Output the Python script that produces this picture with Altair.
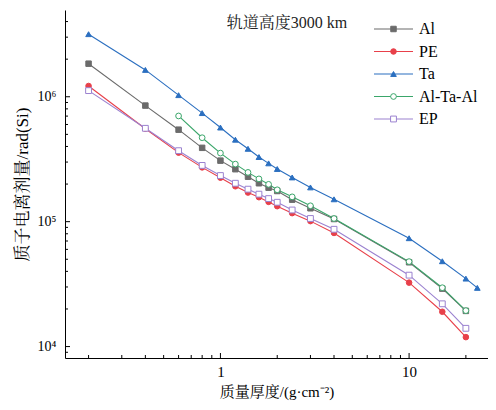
import altair as alt
import pandas as pd

series = ["Al", "PE", "Ta", "Al-Ta-Al", "EP"]
colors = ["#6b6b6b", "#e8404a", "#2b6fc0", "#3aa66a", "#9b82d0"]
shapes = ["square", "circle", "triangle-up", "circle", "square"]
fills = ["#6b6b6b", "#e8404a", "#2b6fc0", "white", "white"]
sizes = [30, 34, 60, 34, 30]

x_common = [0.2, 0.4, 0.6, 0.8, 1.0, 1.2, 1.4, 1.6, 1.8, 2.0, 2.4, 3, 4, 10, 15, 20]
x_ta = x_common + [23]
x_alta = x_common[2:]

al = [1.84e6, 8.5e5, 5.45e5, 3.9e5, 3.08e5, 2.63e5, 2.29e5, 2.03e5, 1.87e5, 1.76e5,
      1.5e5, 1.28e5, 1.05e5, 4.73e4, 2.91e4, 1.93e4]
pe = [1.22e6, 5.55e5, 3.57e5, 2.72e5, 2.25e5, 1.92e5, 1.71e5, 1.57e5, 1.44e5, 1.33e5,
      1.17e5, 1.01e5, 8.12e4, 3.25e4, 1.9e4, 1.19e4]
ta = [3.17e6, 1.64e6, 1.03e6, 7.4e5, 5.67e5, 4.53e5, 3.83e5, 3.29e5, 2.93e5, 2.64e5,
      2.26e5, 1.88e5, 1.51e5, 7.37e4, 4.82e4, 3.5e4, 2.95e4]
altaal = [7.02e5, 4.7e5, 3.54e5, 2.89e5, 2.48e5, 2.2e5, 1.99e5, 1.8e5, 1.58e5, 1.34e5,
          1.06e5, 4.79e4, 2.96e4, 1.94e4]
ep = [1.12e6, 5.59e5, 3.7e5, 2.82e5, 2.34e5, 2.03e5, 1.82e5, 1.66e5, 1.53e5, 1.43e5,
      1.24e5, 1.06e5, 8.69e4, 3.73e4, 2.2e4, 1.4e4]

x_major = [1, 10]
x_minor = [0.2, 0.3, 0.4, 0.5, 0.6, 0.7, 0.8, 0.9, 2, 3, 4, 5, 6, 7, 8, 9, 20]
y_major = [1e4, 1e5, 1e6]
y_minor = [9e3, 2e4, 3e4, 4e4, 5e4, 6e4, 7e4, 8e4, 9e4,
           2e5, 3e5, 4e5, 5e5, 6e5, 7e5, 8e5, 9e5, 2e6, 3e6, 4e6]

chart_title = "轨道高度3000 km"
x_title = "质量厚度/(g·cm⁻²)"
y_title = "质子电离剂量/rad(Si)"

rows = []
for name, xs_, ys_ in [("Al", x_common, al), ("PE", x_common, pe), ("Ta", x_ta, ta),
                       ("Al-Ta-Al", x_alta, altaal), ("EP", x_common, ep)]:
    for a, b in zip(xs_, ys_):
        rows.append({"series": name, "x": a, "y": b})
df = pd.DataFrame(rows)
leg = pd.DataFrame({"series": series})

SERIF = "Liberation Serif, Noto Serif CJK SC, Noto Sans CJK SC"
W, H = 423, 348

xs = alt.Scale(type="log", domain=[0.15, 26.2], nice=False)
ys = alt.Scale(type="log", domain=[8100, 4.95e6], nice=False)
cs = alt.Scale(domain=series, range=colors)
ss = alt.Scale(domain=series, range=shapes)
fs = alt.Scale(domain=series, range=fills)
zs = alt.Scale(domain=series, range=sizes)

x_axis = alt.Axis(values=x_major, format="~g", ticks=False, tickSize=0, grid=False,
                  domainColor="black", domainWidth=1, labelFont=SERIF, labelFontSize=15,
                  labelColor="black", labelPadding=6, title=x_title, titleFont=SERIF,
                  titleFontSize=15, titleFontWeight="normal", titleColor="black",
                  titlePadding=5)
y_axis = alt.Axis(values=y_major, ticks=False, tickSize=0, grid=False,
                  domainColor="black", domainWidth=1,
                  labelExpr="datum.value == 10000 ? '10⁴' : datum.value == 100000 ? '10⁵' : '10⁶'",
                  labelFont=SERIF, labelFontSize=14, labelColor="black", labelPadding=9,
                  title=y_title, titleFont=SERIF, titleFontSize=17,
                  titleFontWeight="normal", titleColor="black", titlePadding=6)

X = alt.X("x:Q", scale=xs, axis=x_axis)
lines = alt.Chart(df).mark_line(strokeWidth=1.1).encode(
    x=X,
    y=alt.Y("y:Q", scale=ys, axis=y_axis),
    color=alt.Color("series:N", scale=cs, legend=None),
)
points = alt.Chart(df).mark_point(opacity=1, strokeWidth=1).encode(
    x=X,
    y=alt.Y("y:Q", scale=ys, axis=None),
    color=alt.Color("series:N", scale=cs, legend=None),
    fill=alt.Fill("series:N", scale=fs, legend=None),
    shape=alt.Shape("series:N", scale=ss, legend=None),
    size=alt.Size("series:N", scale=zs, legend=None),
)

XV = alt.X("v:Q", scale=xs, axis=x_axis)
xmaj = alt.Chart(pd.DataFrame({"v": x_major})).mark_rule(color="black").encode(
    x=XV, y=alt.value(H), y2=alt.value(H - 5))
xmin = alt.Chart(pd.DataFrame({"v": x_minor})).mark_rule(color="black").encode(
    x=XV, y=alt.value(H), y2=alt.value(H - 3))
ymaj = alt.Chart(pd.DataFrame({"v": y_major})).mark_rule(color="black").encode(
    y=alt.Y("v:Q", scale=ys, axis=None), x=alt.value(0), x2=alt.value(5))
ymin = alt.Chart(pd.DataFrame({"v": y_minor})).mark_rule(color="black").encode(
    y=alt.Y("v:Q", scale=ys, axis=None), x=alt.value(0), x2=alt.value(3))

ly = alt.Y("series:N", scale=alt.Scale(type="point", domain=series, range=[19, 109], padding=0), axis=None)
leg_rule = alt.Chart(leg).mark_rule(strokeWidth=1.1).encode(
    x=alt.value(309), x2=alt.value(348), y=ly,
    color=alt.Color("series:N", scale=cs, legend=None))
leg_pt = alt.Chart(leg).mark_point(opacity=1, strokeWidth=1).encode(
    x=alt.value(328.5), y=ly,
    color=alt.Color("series:N", scale=cs, legend=None),
    fill=alt.Fill("series:N", scale=fs, legend=None),
    shape=alt.Shape("series:N", scale=ss, legend=None),
    size=alt.Size("series:N", scale=zs, legend=None))
leg_txt = alt.Chart(leg).mark_text(align="left", baseline="middle", font=SERIF,
                                   fontSize=16, color="black").encode(
    x=alt.value(354), y=ly, text="series:N")

title = alt.Chart(pd.DataFrame({"t": [chart_title]})).mark_text(
    font=SERIF, fontSize=16, color="#222222", baseline="middle").encode(
    x=alt.value(222), y=alt.value(13), text="t:N")

chart = alt.layer(lines, points, xmaj, xmin, ymaj, ymin, leg_rule, leg_pt, leg_txt, title).resolve_scale(
    y="independent"
).properties(
    width=W, height=H,
    autosize=alt.AutoSizeParams(type="none"),
    padding={"left": 57, "top": 2, "right": 0, "bottom": 44},
).configure_view(strokeWidth=0)

chart.save("out.html", embed_options={"renderer": "svg", "actions": False})
